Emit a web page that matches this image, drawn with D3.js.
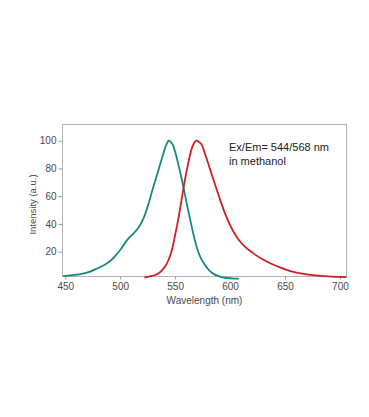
<!DOCTYPE html>
<html>
<head>
<meta charset="utf-8">
<script src="https://cdn.jsdelivr.net/npm/d3@7"></script>
<style>
  body { margin: 0; background: #fff; }
  svg { display: block; font-family: "Liberation Sans", Arial, sans-serif; }
</style>
</head>
<body>
<div id="chart"></div>
<script>
// excitation spectrum (teal)
const exWavelength = [448, 456, 464, 472, 479, 486, 492, 497, 501, 504, 507, 511, 515, 518, 521, 525, 529, 533, 536, 539, 541, 543, 544, 546, 548, 550, 552, 555, 558, 561, 564, 567, 570, 573, 577, 581, 585, 590, 595, 601, 608];
const exIntensity = [2.3, 3, 3.8, 5.5, 7.9, 10.6, 14, 18.3, 22.3, 25.8, 29, 32.3, 35.6, 39, 43.6, 52.4, 63.5, 74, 82, 90, 95, 98.8, 100, 99.2, 97, 92, 86, 76, 65, 53, 42, 31.5, 22.4, 16, 10.5, 6.5, 4, 2.2, 1.2, 0.7, 0.5];

// emission spectrum (red)
const emWavelength = [522, 527, 531, 535, 538, 541, 544, 547, 550, 553, 556, 559, 562, 565, 567, 569, 571, 574, 577, 580, 584, 588, 592, 597, 602, 607, 613, 620, 628, 637, 646, 655, 667, 680, 692, 706];
const emIntensity = [1.4, 2.2, 3, 4.5, 6.5, 9.5, 14, 21, 32, 44, 58, 72, 84, 94, 98, 100, 99.5, 97.5, 91, 84, 74, 64.5, 55, 44.5, 36, 29.5, 24, 19.5, 15.2, 11.5, 8.5, 6, 4, 2.7, 2, 1.7];

const xTicks = [450, 500, 550, 600, 650, 700];
const yTicks = [20, 40, 60, 80, 100];

const width = 369, height = 417;
const box = { left: 62.5, right: 346.5, top: 124.5, bottom: 276.5 };

const svg = d3.select("#chart").append("svg")
    .attr("width", width)
    .attr("height", height);

const x = d3.scaleLinear().domain([447.5, 706]).range([box.left, box.right]);
const y = d3.scaleLinear().domain([2.1, 111.7]).range([box.bottom, box.top]);

// frame
svg.append("rect")
    .attr("x", box.left)
    .attr("y", box.top)
    .attr("width", box.right - box.left)
    .attr("height", box.bottom - box.top)
    .attr("fill", "none")
    .attr("stroke", "#b4b4b4")
    .attr("stroke-width", 1);

// axes
const xAxis = svg.append("g")
    .attr("transform", `translate(0,${box.bottom})`)
    .call(d3.axisBottom(x).tickValues(xTicks).tickSize(3).tickPadding(3));

const yAxis = svg.append("g")
    .attr("transform", `translate(${box.left},0)`)
    .call(d3.axisLeft(y).tickValues(yTicks).tickSize(4).tickPadding(2));

[xAxis, yAxis].forEach(a => {
    a.select(".domain").remove();
    a.selectAll(".tick line").attr("stroke", "#999");
    a.selectAll(".tick text")
        .attr("fill", "#4a4a4a")
        .style("font-size", "10px")
        .style("font-family", "Liberation Sans, Arial, sans-serif");
});

// curves
const line = d3.line()
    .x(d => x(d[0]))
    .y(d => y(d[1]))
    .curve(d3.curveCatmullRom.alpha(0.5));

svg.append("path")
    .datum(d3.zip(exWavelength, exIntensity))
    .attr("d", line)
    .attr("fill", "none")
    .attr("stroke", "#178a7c")
    .attr("stroke-width", 1.8);

svg.append("path")
    .datum(d3.zip(emWavelength, emIntensity))
    .attr("d", line)
    .attr("fill", "none")
    .attr("stroke", "#cf1f26")
    .attr("stroke-width", 1.8);

// axis titles
svg.append("text")
    .attr("x", (box.left + box.right) / 2)
    .attr("y", 304)
    .attr("text-anchor", "middle")
    .attr("fill", "#4a4a4a")
    .style("font-size", "10px")
    .text("Wavelength (nm)");

svg.append("text")
    .attr("transform", `translate(36,${(box.top + box.bottom) / 2 + 4}) rotate(-90)`)
    .attr("text-anchor", "middle")
    .attr("fill", "#4a4a4a")
    .style("font-size", "9.5px")
    .text("Intensity (a.u.)");

// annotation
const note = svg.append("text")
    .attr("x", 229)
    .attr("y", 151)
    .attr("fill", "#222")
    .style("font-size", "11px");
note.append("tspan").text("Ex/Em= 544/568 nm");
note.append("tspan").attr("x", 229).attr("dy", 14).text("in methanol");
</script>
</body>
</html>
